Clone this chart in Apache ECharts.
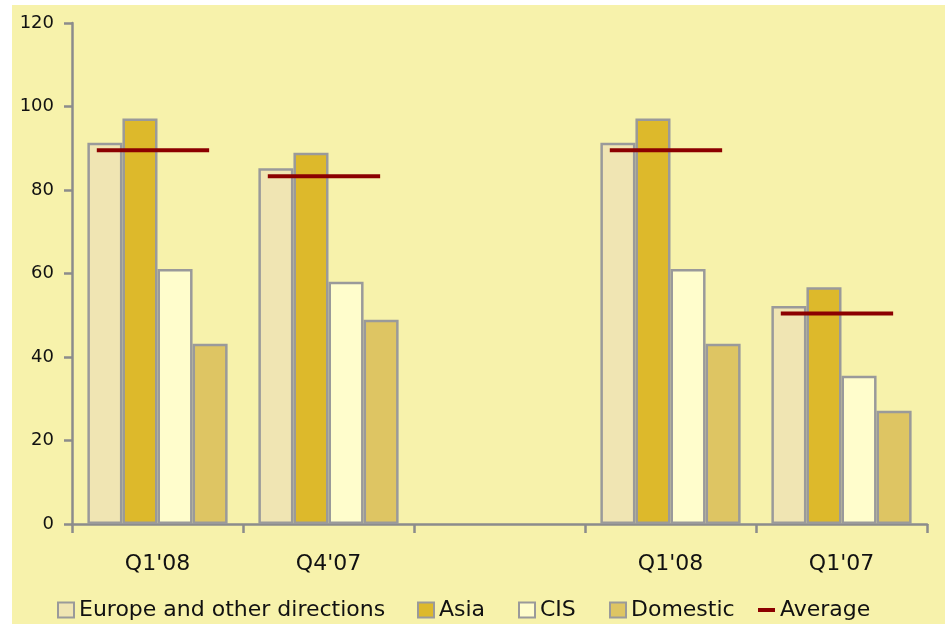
<!DOCTYPE html>
<html>
<head>
<meta charset="utf-8">
<script src="https://cdn.jsdelivr.net/npm/echarts@6/dist/echarts.min.js"></script>
<style>
  html, body { margin: 0; padding: 0; background: #ffffff; }
  #chart { width: 945px; height: 624px; }
</style>
</head>
<body>
<div id="chart"></div>
<script>
// Quarter labels (the middle slot is left blank as a spacer)
const categories = ["Q1'08", "Q4'07", "", "Q1'08", "Q1'07"];

// Values per direction
const europe   = [91.3, 85.2, null, 91.3, 52.2];
const asia     = [97.1, 88.9, null, 97.1, 56.7];
const cis      = [61.1, 58.0, null, 61.1, 35.5];
const domestic = [43.2, 48.9, null, 43.2, 27.1];
const average  = [89.5, 83.3, null, 89.5, 50.4];

// Value axis ticks
const yMin = 0, yMax = 120, yStep = 20;

const FONT = 'DejaVu Sans';
const BORDER = '#9a9a9a';

function barSeries(name, data, color) {
  return {
    name: name,
    type: 'bar',
    data: data.map(v => (v == null ? '-' : v)),
    barGap: '0%',
    barCategoryGap: '18%',
    itemStyle: { color: color, borderColor: BORDER, borderWidth: 2.5 },
    emphasis: { disabled: true }
  };
}

const avgData = average
  .map((v, i) => [i, v])
  .filter(d => d[1] != null);

const chart = echarts.init(document.getElementById('chart'), null, { renderer: 'canvas' });

const legendItem = (name, left, extra) => Object.assign({
  show: true,
  left: left,
  top: 599,
  padding: 0,
  itemWidth: 16,
  itemHeight: 15,
  itemGap: 7,
  icon: 'rect',
  selectedMode: false,
  textStyle: { fontFamily: FONT, fontSize: 22, color: '#111111' },
  data: [name]
}, extra || {});

chart.setOption({
  animation: false,
  backgroundColor: '#ffffff',
  graphic: [{
    type: 'rect',
    left: 12,
    top: 5,
    z: -10,
    shape: { width: 933, height: 619 },
    style: { fill: '#F7F2AB' },
    silent: true
  }],
  grid: { left: 72, right: 18, top: 23, bottom: 100, containLabel: false },
  legend: [
    legendItem('Europe and other directions', 57),
    legendItem('Asia', 417),
    legendItem('CIS', 518),
    legendItem('Domestic', 609),
    legendItem('Average', 758, {
      itemWidth: 17,
      data: [{ name: 'Average', icon: 'path://M0,0H17V4H0Z', itemStyle: { color: '#8B0000', borderWidth: 0 } }]
    })
  ],
  xAxis: {
    type: 'category',
    data: categories,
    boundaryGap: true,
    axisLine: { show: true, lineStyle: { color: '#8c8c8c', width: 2.5 } },
    axisTick: { show: true, alignWithLabel: false, length: 9, lineStyle: { color: '#8c8c8c', width: 2.5 } },
    axisLabel: { fontFamily: FONT, fontSize: 22, color: '#111111', margin: 29 },
    splitLine: { show: false }
  },
  yAxis: {
    type: 'value',
    min: yMin,
    max: yMax,
    interval: yStep,
    axisLine: { show: true, lineStyle: { color: '#8c8c8c', width: 2.5 } },
    axisTick: { show: true, length: 8, lineStyle: { color: '#8c8c8c', width: 2.5 } },
    axisLabel: { fontFamily: FONT, fontSize: 18, color: '#111111', margin: 18, padding: [6, 0, 0, 0] },
    splitLine: { show: false }
  },
  series: [
    barSeries('Europe and other directions', europe, '#F0E5B3'),
    barSeries('Asia', asia, '#DDB92B'),
    barSeries('CIS', cis, '#FFFDCC'),
    barSeries('Domestic', domestic, '#DEC563'),
    {
      name: 'Average',
      type: 'custom',
      data: avgData,
      encode: { x: 0, y: 1 },
      itemStyle: { color: '#8B0000' },
      z: 5,
      renderItem: function (params, api) {
        const p = api.coord([api.value(0), api.value(1)]);
        const bw = api.size([1, 0])[0];
        return {
          type: 'line',
          shape: { x1: p[0] - 0.355 * bw, y1: p[1], x2: p[0] + 0.302 * bw, y2: p[1] },
          style: { stroke: '#8B0000', lineWidth: 4 }
        };
      }
    }
  ]
});
</script>
</body>
</html>
